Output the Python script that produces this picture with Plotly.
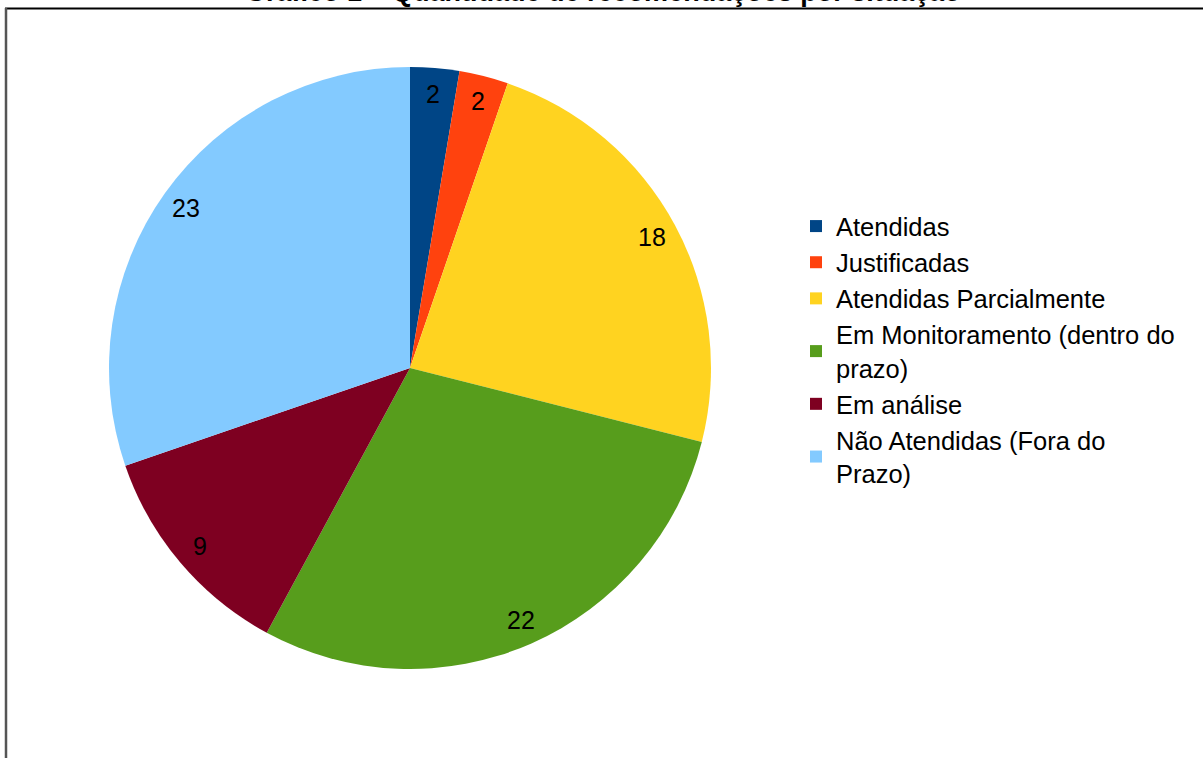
import math
import plotly.graph_objects as go

categories = ["Atendidas", "Justificadas", "Atendidas Parcialmente",
              "Em Monitoramento (dentro do<br>prazo)", "Em análise",
              "Não Atendidas (Fora do<br>Prazo)"]
values = [2, 2, 18, 22, 9, 23]
colors = ["#004586", "#ff420e", "#ffd320", "#579d1c", "#7e0021", "#83caff"]
title_text = "Gráfico 1 – Quantidade de recomendações por situação"

W, H = 1203, 758
cx, cy, R = 410, 368, 301
FONT = "Liberation Sans, Arial, sans-serif"

fig = go.Figure()
fig.add_trace(go.Pie(
    labels=categories, values=values, sort=False, direction="clockwise",
    rotation=0, marker=dict(colors=colors, line=dict(width=0)),
    textinfo="none", hoverinfo="label+value",
    domain=dict(x=[(cx - R) / W, (cx + R) / W], y=[1 - (cy + R) / H, 1 - (cy - R) / H]),
))

# value labels placed near the rim of each slice
total = sum(values)
cum = 0
annotations = []
for v in values:
    mid = (cum + v / 2) / total * 2 * math.pi
    cum += v
    r = 0.915 * R
    px = cx + r * math.sin(mid)
    py = cy - r * math.cos(mid)
    annotations.append(dict(x=px / W, y=1 - py / H, xref="paper", yref="paper",
                            text=str(v), showarrow=False,
                            font=dict(family=FONT, size=25, color="black"),
                            xanchor="center", yanchor="middle"))

annotations.append(dict(x=603 / W, y=1 - 9 / H, xref="paper", yref="paper",
                        text="<b>" + title_text + "</b>", showarrow=False,
                        font=dict(family=FONT, size=27, color="black"),
                        xanchor="center", yanchor="bottom"))

fig.update_layout(
    width=W, height=H, margin=dict(l=0, r=0, t=0, b=0),
    paper_bgcolor="white", plot_bgcolor="white",
    font=dict(family=FONT, size=25.5, color="black"),
    annotations=annotations,
    legend=dict(x=796 / W, y=1 - 203 / H, xanchor="left", yanchor="top",
                font=dict(family=FONT, size=25.5, color="black"),
                itemwidth=30, tracegroupgap=0, bgcolor="rgba(0,0,0,0)"),
    shapes=[
        dict(type="line", xref="paper", yref="paper", x0=5 / W, x1=1.02,
             y0=1 - 8.5 / H, y1=1 - 8.5 / H, line=dict(color="black", width=2)),
        dict(type="line", xref="paper", yref="paper", x0=6 / W, x1=6 / W,
             y0=1 - 8 / H, y1=-0.02, line=dict(color="#555555", width=2.5)),
    ],
)

fig.write_html("out.html", config={"displayModeBar": False},
               post_script="document.body.style.margin='0';document.body.style.overflow='hidden';")
